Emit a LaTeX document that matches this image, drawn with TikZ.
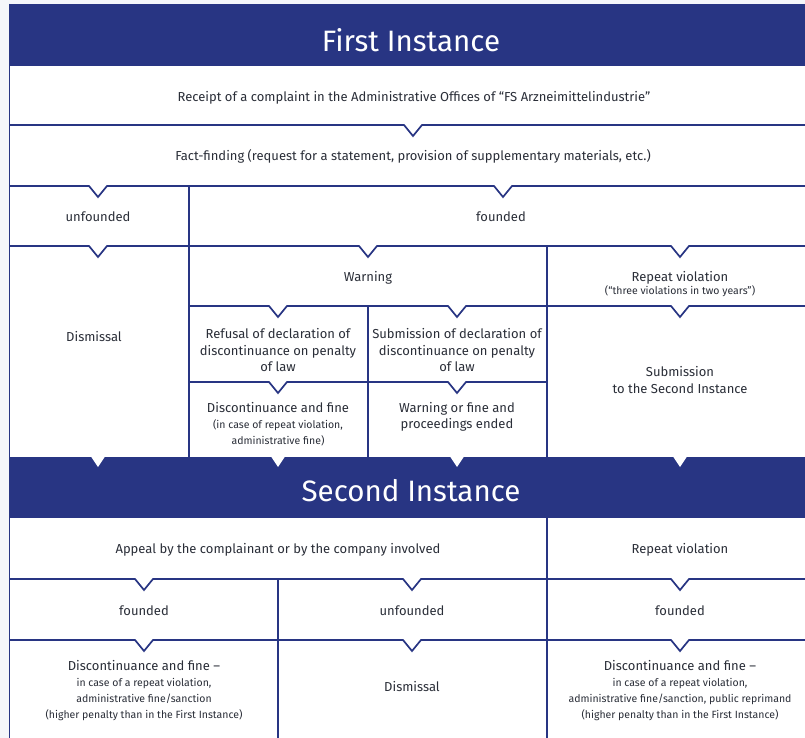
\documentclass[tikz,border=0pt]{standalone}
\usepackage{fontspec}
\setmainfont{Fira Sans}
\definecolor{navy}{HTML}{283583}
\definecolor{ink}{HTML}{2A2E38}
\definecolor{paper}{HTML}{F5F6FA}
\begin{document}
\begin{tikzpicture}[x=1pt,y=-1pt,
  ln/.style={draw=navy,line width=1.7pt,line join=miter},
  txt/.style={text=ink,font=\fontsize{13}{16.5}\selectfont,inner sep=0pt,anchor=base},
  sm/.style={text=ink,font=\fontsize{10.5}{16}\selectfont,inner sep=0pt,anchor=base},
  ttl/.style={text=white,font=\fontsize{29.5}{30}\selectfont,inner sep=0pt,anchor=base}]
% canvas
\fill[paper] (0,0) rectangle (805,738);
\useasboundingbox (0,0) rectangle (805,738);
\fill[white] (9,4) rectangle (805,738);
% vertical lines
\draw[ln] (9.5,4) -- (9.5,738);
\draw[ln] (189,186) -- (189,457);
\draw[ln] (547,246) -- (547,457);
\draw[ln] (368,306) -- (368,457);
\draw[ln] (547,518) -- (547,738);
\draw[ln] (278,579) -- (278,738);
% horizontal notched lines
\draw[ln] (9,125) -- (404,125) -- (413,136) -- (422,125) -- (805,125);
\draw[ln] (9,186) -- (89,186) -- (98,197) -- (107,186) -- (494,186) -- (503,197) -- (512,186) -- (805,186);
\draw[ln] (9,246) -- (89,246) -- (98,257) -- (107,246) -- (359,246) -- (368,257) -- (377,246) -- (671,246) -- (680,257) -- (689,246) -- (805,246);
\draw[ln] (189,306) -- (269,306) -- (278,317) -- (287,306) -- (448,306) -- (457,317) -- (466,306) -- (671,306) -- (680,317) -- (689,306) -- (805,306);
\draw[ln] (189,382) -- (269,382) -- (278,393) -- (287,382) -- (448,382) -- (457,393) -- (466,382) -- (547,382);
\draw[ln] (9,579) -- (135,579) -- (144,590) -- (153,579) -- (403,579) -- (412,590) -- (421,579) -- (671,579) -- (680,590) -- (689,579) -- (805,579);
\draw[ln] (9,640) -- (135,640) -- (144,651) -- (153,640) -- (403,640) -- (412,651) -- (421,640) -- (671,640) -- (680,651) -- (689,640) -- (805,640);
% headers
\fill[navy] (9,4) rectangle (805,66);
\fill[navy] (9,457) rectangle (805,518);
\foreach \nx in {98,278,457,680}
  \fill[white] (\nx-7,456.5) -- (\nx,467) -- (\nx+7,456.5) -- cycle;
\node[ttl] (t1) at (411,52) {First Instance};
\node[ttl] (t2) at (411,501.7) {Second Instance};
% first instance texts
\node[txt] (receipt) at (414,101.7) {Receipt of a complaint in the Administrative Offices of “FS Arzneimittelindustrie”};
\node[txt] (fact) at (413,161) {Fact-finding (request for a statement, provision of supplementary materials, etc.)};
\node[txt] (unf1) at (98,221.7) {unfounded};
\node[txt] (fnd1) at (501,221.7) {founded};
\node[txt] (dism1) at (94,341.7) {Dismissal};
\node[txt] (warn) at (368,281.7) {Warning};
\node[txt] (rep1) at (680,281.7) {Repeat violation};
\node[sm] (rep1s) at (680,294.3) {(“three violations in two years”)};
\node[txt] (ref1) at (278,338.3) {Refusal of declaration of};
\node[txt] (ref2) at (278,355) {discontinuance on penalty};
\node[txt] (ref3) at (278,371.5) {of law};
\node[txt] (sub1) at (457,338.3) {Submission of declaration of};
\node[txt] (sub2) at (457,355) {discontinuance on penalty};
\node[txt] (sub3) at (457,371.5) {of law};
\node[txt] (disc1) at (278,412.3) {Discontinuance and fine};
\node[sm] (disc1a) at (278,428.3) {(in case of repeat violation,};
\node[sm] (disc1b) at (278,444.3) {administrative fine)};
\node[txt] (wof1) at (457,412.3) {Warning or fine and};
\node[txt] (wof2) at (457,428.3) {proceedings ended};
\node[txt] (subm1) at (680,376.7) {Submission};
\node[txt] (subm2) at (680,393.3) {to the Second Instance};
% second instance texts
\node[txt] (appeal) at (278,553.3) {Appeal by the complainant or by the company involved};
\node[txt] (rep2) at (680,553.3) {Repeat violation};
\node[txt] (fnd2) at (144,615) {founded};
\node[txt] (unf2) at (412,615) {unfounded};
\node[txt] (fnd3) at (680,615) {founded};
\node[txt] (disc2) at (144,670.7) {Discontinuance and fine –};
\node[sm] (disc2a) at (144,686.7) {in case of a repeat violation,};
\node[sm] (disc2b) at (144,702.7) {administrative fine/sanction};
\node[sm] (disc2c) at (144,718.7) {(higher penalty than in the First Instance)};
\node[txt] (dism2) at (412,691.7) {Dismissal};
\node[txt] (disc3) at (680,670.7) {Discontinuance and fine –};
\node[sm] (disc3a) at (680,686.7) {in case of a repeat violation,};
\node[sm] (disc3b) at (680,702.7) {administrative fine/sanction, public reprimand};
\node[sm] (disc3c) at (680,718.7) {(higher penalty than in the First Instance)};
\end{tikzpicture}
\end{document}
